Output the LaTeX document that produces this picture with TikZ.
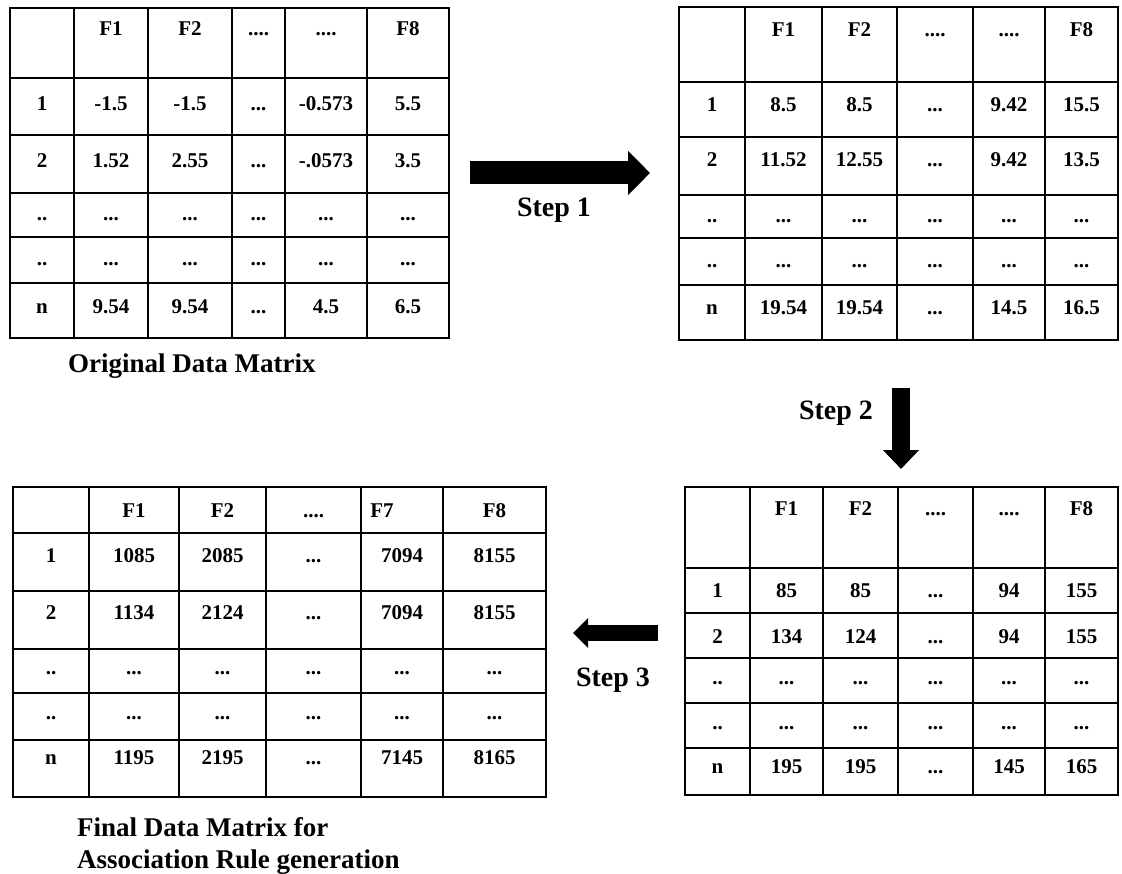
\documentclass[tikz,border=0pt]{standalone}
\usepackage{fontspec}
\setmainfont{Liberation Serif}
\usetikzlibrary{arrows.meta}

\newcommand{\dotstwo}{..}
\newcommand{\dotsthree}{...}
\newcommand{\dotsfour}{....}

% one row of cell texts: name, column centres, baseline, first column, texts
\newcommand{\tablerow}[5]{%
  \foreach \celltext [count=\i] in {#5} {
    \pgfmathtruncatemacro{\ci}{\i+#4-1}
    \pgfmathsetmacro{\cx}{#2[\ci-1]}
    \node[cell] (#1-\ci) at (\cx,#3) {\celltext};
  }%
}

\tikzset{
  gridline/.style={line width=2.4pt, line cap=rect},
  cell/.style={font=\fontsize{21}{24}\selectfont\bfseries, inner sep=0pt, anchor=base},
  steplabel/.style={font=\fontsize{28}{32}\selectfont\bfseries, inner sep=0pt},
  caption/.style={font=\fontsize{27}{32}\selectfont\bfseries, inner sep=0pt, anchor=base west},
  blockarrow/.style n args={3}{line width=#1, -{Triangle[width=#2 0 0, length=#3 0 0]}}
}

\begin{document}
\begin{tikzpicture}[x=1pt, y=-1pt]
    \useasboundingbox (0,0) rectangle (1122,874);

    % Column centres of the four matrices
    \def\colsA{{42,111,190,258.5,326,408}}
    \def\colsB{{712,783.5,859.5,935,1009,1081.5}}
    \def\colsC{{51,134,222.5,313.5,402,494.5}}
    \def\colsCh{{51,134,222.5,313.5,382,494.5}}
    \def\colsD{{717.5,786.5,860.5,935.5,1009,1081.5}}

    % Original data matrix
    \foreach \x in {10,74,148,232,285,367,449} \draw[gridline] (\x,8) -- (\x,338);
    \foreach \y in {8,78,135,193,237,283,338} \draw[gridline] (10,\y) -- (449,\y);
    \tablerow{A0}{\colsA}{36}{2}{F1,F2,\dotsfour,\dotsfour,F8}
    \tablerow{A1}{\colsA}{111}{1}{1,-1.5,-1.5,\dotsthree,-0.573,5.5}
    \tablerow{A2}{\colsA}{168}{1}{2,1.52,2.55,\dotsthree,-.0573,3.5}
    \tablerow{A3}{\colsA}{221}{1}{\dotstwo,\dotsthree,\dotsthree,\dotsthree,\dotsthree,\dotsthree}
    \tablerow{A4}{\colsA}{266}{1}{\dotstwo,\dotsthree,\dotsthree,\dotsthree,\dotsthree,\dotsthree}
    \tablerow{An}{\colsA}{314}{1}{n,9.54,9.54,\dotsthree,4.5,6.5}
    \node[caption] (capA) at (68,373) {Original Data Matrix};

    % Matrix after step 1
    \foreach \x in {679,745,822,897,973,1045,1118} \draw[gridline] (\x,7) -- (\x,340);
    \foreach \y in {7,82,137,195,238,285,340} \draw[gridline] (679,\y) -- (1118,\y);
    \tablerow{B0}{\colsB}{37}{2}{F1,F2,\dotsfour,\dotsfour,F8}
    \tablerow{B1}{\colsB}{111.5}{1}{1,8.5,8.5,\dotsthree,9.42,15.5}
    \tablerow{B2}{\colsB}{167}{1}{2,11.52,12.55,\dotsthree,9.42,13.5}
    \tablerow{B3}{\colsB}{223}{1}{\dotstwo,\dotsthree,\dotsthree,\dotsthree,\dotsthree,\dotsthree}
    \tablerow{B4}{\colsB}{268}{1}{\dotstwo,\dotsthree,\dotsthree,\dotsthree,\dotsthree,\dotsthree}
    \tablerow{Bn}{\colsB}{315}{1}{n,19.54,19.54,\dotsthree,14.5,16.5}

    % Matrix after step 2
    \foreach \x in {685,750,823,898,973,1045,1118} \draw[gridline] (\x,487) -- (\x,795);
    \foreach \y in {487,568,613,658,703,748,795} \draw[gridline] (685,\y) -- (1118,\y);
    \tablerow{D0}{\colsD}{515}{2}{F1,F2,\dotsfour,\dotsfour,F8}
    \tablerow{D1}{\colsD}{597}{1}{1,85,85,\dotsthree,94,155}
    \tablerow{D2}{\colsD}{643}{1}{2,134,124,\dotsthree,94,155}
    \tablerow{D3}{\colsD}{684}{1}{\dotstwo,\dotsthree,\dotsthree,\dotsthree,\dotsthree,\dotsthree}
    \tablerow{D4}{\colsD}{729}{1}{\dotstwo,\dotsthree,\dotsthree,\dotsthree,\dotsthree,\dotsthree}
    \tablerow{Dn}{\colsD}{773}{1}{n,195,195,\dotsthree,145,165}

    % Final data matrix
    \foreach \x in {13,89,179,266,361,443,546} \draw[gridline] (\x,487) -- (\x,797);
    \foreach \y in {487,533,591,649,693,740,797} \draw[gridline] (13,\y) -- (546,\y);
    \tablerow{C0}{\colsCh}{517}{2}{F1,F2,\dotsfour,F7,F8}
    \tablerow{C1}{\colsC}{562}{1}{1,1085,2085,\dotsthree,7094,8155}
    \tablerow{C2}{\colsC}{619}{1}{2,1134,2124,\dotsthree,7094,8155}
    \tablerow{C3}{\colsC}{674}{1}{\dotstwo,\dotsthree,\dotsthree,\dotsthree,\dotsthree,\dotsthree}
    \tablerow{C4}{\colsC}{719}{1}{\dotstwo,\dotsthree,\dotsthree,\dotsthree,\dotsthree,\dotsthree}
    \tablerow{Cn}{\colsC}{764}{1}{n,1195,2195,\dotsthree,7145,8165}
    \node[caption] (capC1) at (77,836) {Final Data Matrix for};
    \node[caption] (capC2) at (77,868) {Association Rule generation};

    % Step arrows
    \coordinate (s1a) at (470,173);
    \coordinate (s1b) at (650,173);
    \draw[blockarrow={23pt}{43pt}{22pt}] (s1a) -- (s1b);
    \node[steplabel] (step1) at (554,210) {Step 1};

    \coordinate (s2a) at (901,388);
    \coordinate (s2b) at (901,469);
    \draw[blockarrow={18pt}{35pt}{19pt}] (s2a) -- (s2b);
    \node[steplabel] (step2) at (836,413) {Step 2};

    \coordinate (s3a) at (658,633);
    \coordinate (s3b) at (573,633);
    \draw[blockarrow={16pt}{29pt}{15pt}] (s3a) -- (s3b);
    \node[steplabel] (step3) at (613,680) {Step 3};

\end{tikzpicture}
\end{document}
